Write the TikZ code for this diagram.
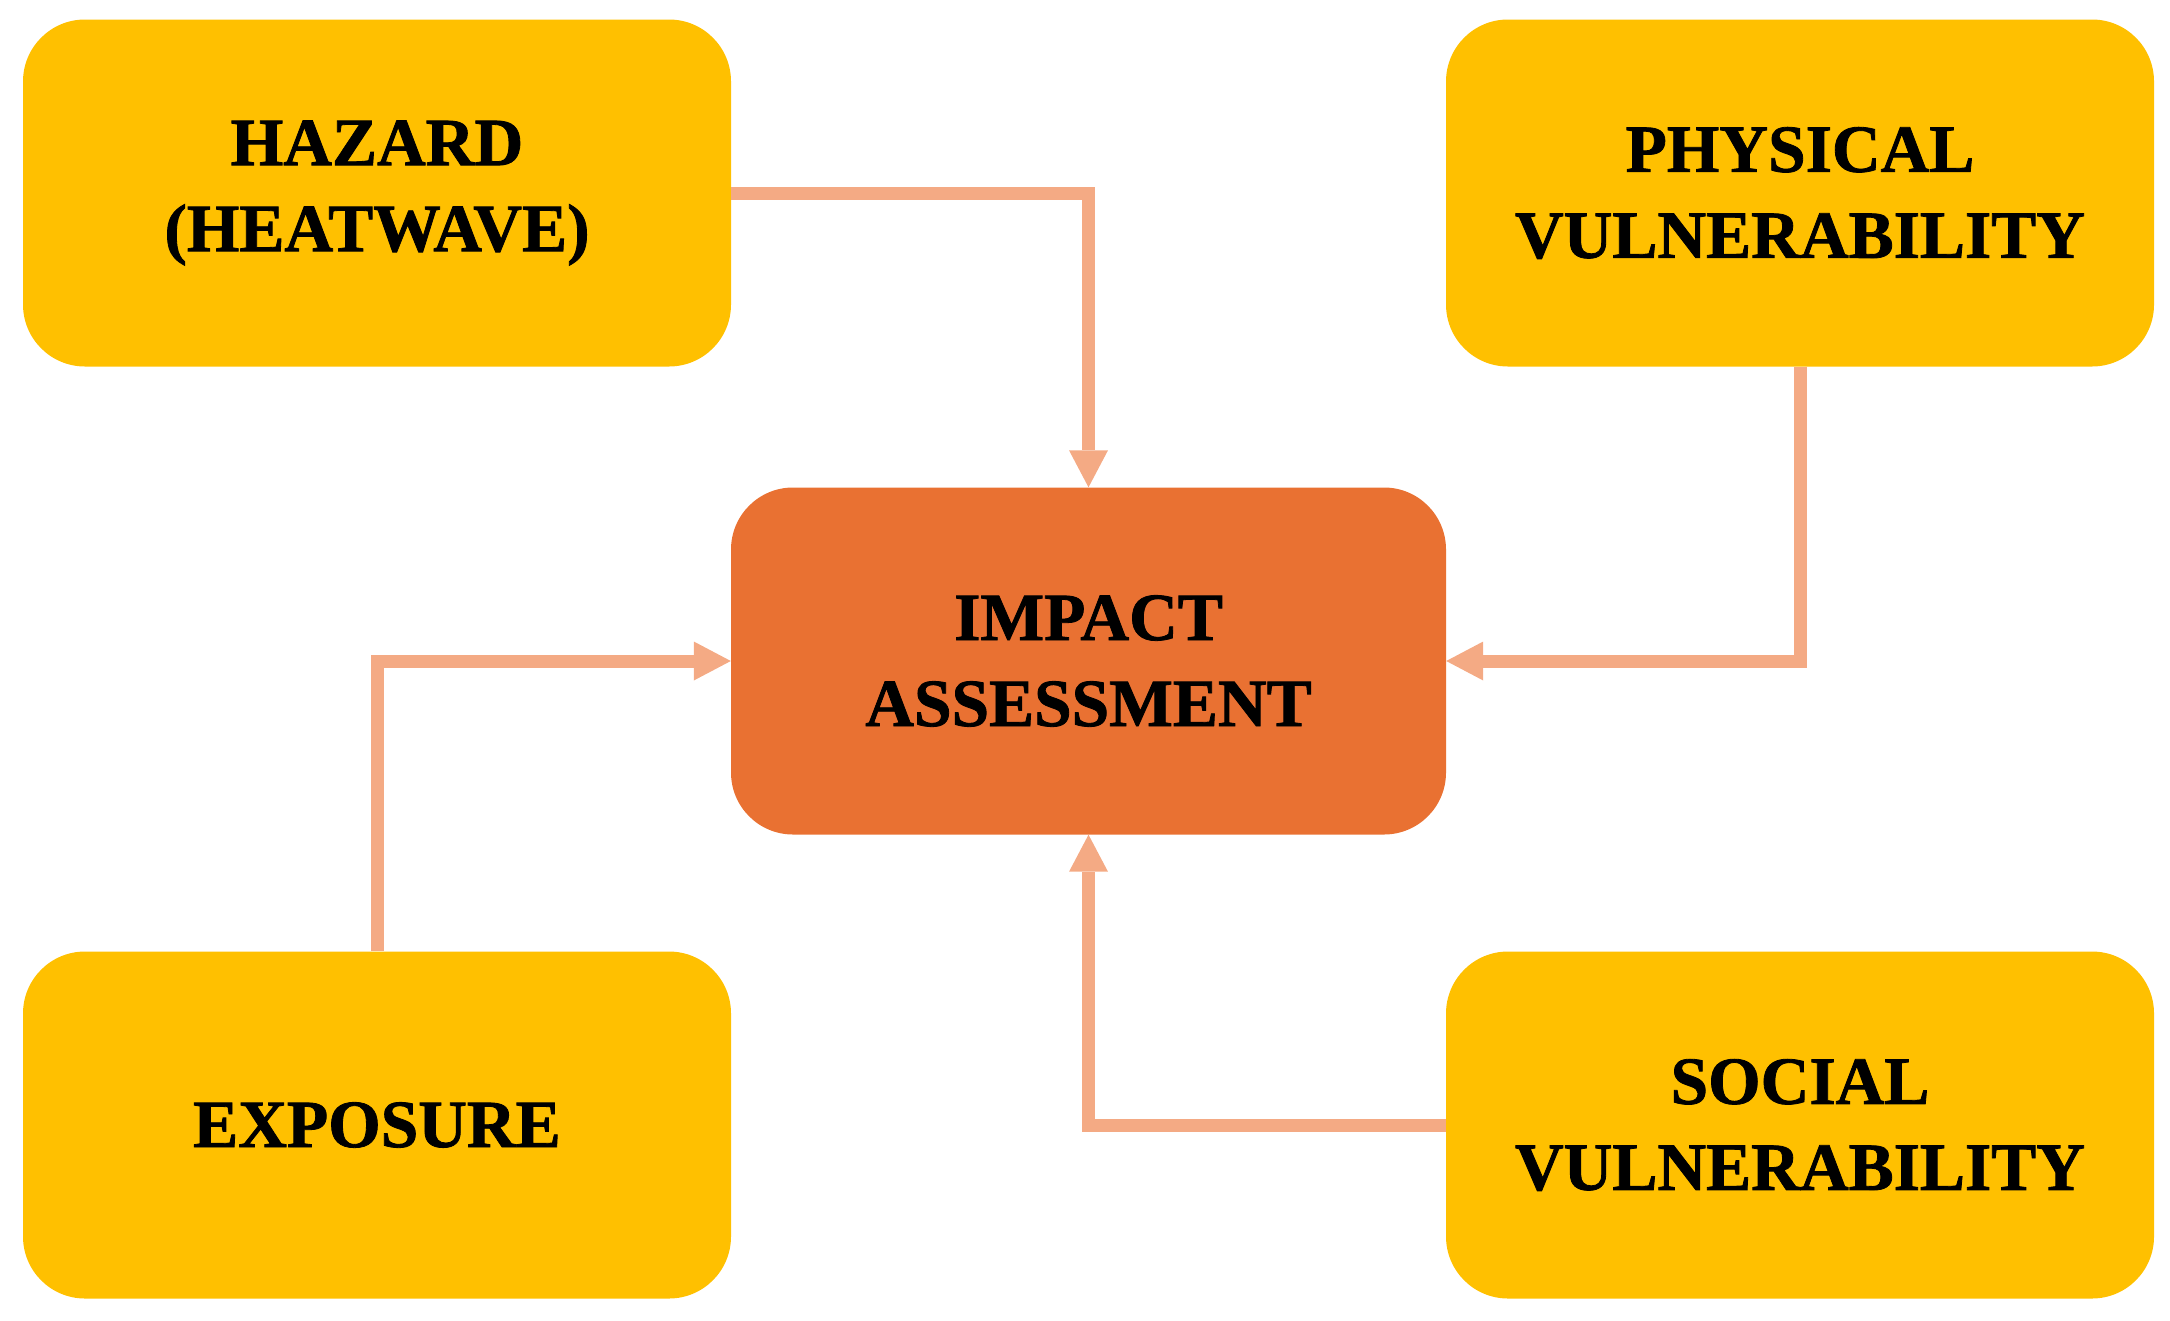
\documentclass[tikz,border=0pt]{standalone}
\usepackage{fontspec}
\setmainfont{Liberation Serif}
\newfontfamily\boxfont{Liberation Serif}[UprightFont={* Bold}, UprightFeatures={FakeBold=1.2}]
\usetikzlibrary{arrows.meta}
\definecolor{boxyellow}{HTML}{FFC000}
\definecolor{boxorange}{HTML}{E97132}
\definecolor{arrowsalmon}{HTML}{F4AA84}
\tikzset{
  yellowbox/.style={rectangle, rounded corners=62pt, fill=boxyellow, draw=none,
    minimum width=708pt, minimum height=347pt, inner sep=0pt, align=center,
    font=\boxfont\fontsize{67.5}{86}\selectfont},
  centerbox/.style={yellowbox, fill=boxorange, minimum width=715pt},
  flow/.style={draw=arrowsalmon, line width=13pt, line join=miter,
    -{Triangle[width=39pt,length=37pt,line width=0pt]}}
}
\begin{document}
\begin{tikzpicture}[x=1pt,y=-1pt]
\useasboundingbox (0,0) rectangle (2170,1320);
\node[yellowbox] (haz) at (377,193) {HAZARD\\(HEATWAVE)};
\node[yellowbox] (phy) at (1800,193) {PHYSICAL\\VULNERABILITY};
\node[centerbox] (imp) at (1088.5,661) {IMPACT\\ASSESSMENT};
\node[yellowbox] (exp) at (377,1125) {EXPOSURE};
\node[yellowbox] (soc) at (1800,1125) {SOCIAL\\VULNERABILITY};
\draw[flow] (haz.east) -| (imp.north);
\draw[flow] (phy.south) |- (imp.east);
\draw[flow] (exp.north) |- (imp.west);
\draw[flow] (soc.west) -| (imp.south);
\end{tikzpicture}
\end{document}
